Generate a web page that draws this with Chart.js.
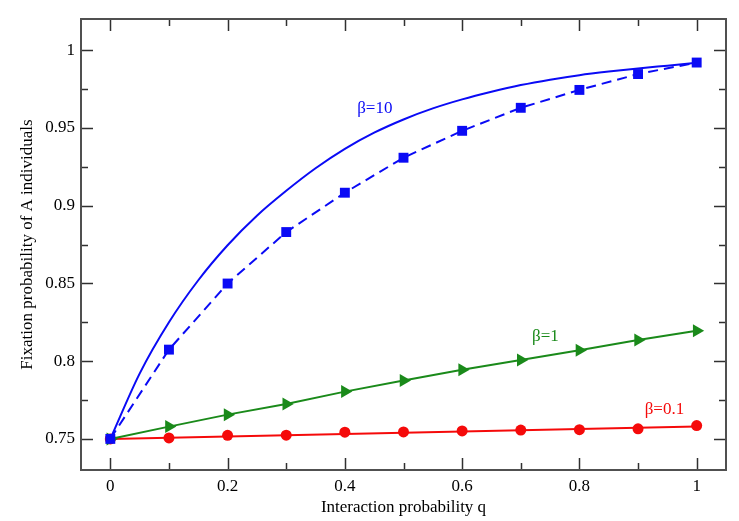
<!DOCTYPE html>
<html>
<head>
<meta charset="utf-8">
<script src="https://cdn.jsdelivr.net/npm/chart.js@4"></script>
<style>
html,body{margin:0;padding:0;background:#fff;}
#wrap{width:739px;height:521px;position:relative;}
</style>
</head>
<body>
<div id="wrap"><canvas id="c" width="739" height="521"></canvas></div>
<script>
// ---- data ----
const qValues = [0, 0.1, 0.2, 0.3, 0.4, 0.5, 0.6, 0.7, 0.8, 0.9, 1];
const beta10Sim = [0.75, 0.8074, 0.8499, 0.8830, 0.9083, 0.9308, 0.9481, 0.9629, 0.9744, 0.9846, 0.9920];
const beta1Sim = [0.75, 0.7579, 0.7656, 0.7725, 0.7804, 0.7875, 0.7945, 0.8008, 0.8070, 0.8136, 0.8196];
const beta01Sim = [0.75, 0.7506, 0.7523, 0.7524, 0.7543, 0.7545, 0.7551, 0.7557, 0.7559, 0.7565, 0.7586];
const qTheory10 = [0, 0.05, 0.1, 0.15, 0.2, 0.25, 0.3, 0.35, 0.4, 0.45, 0.5, 0.55, 0.6, 0.65, 0.7, 0.75, 0.8, 0.85, 0.9, 0.95, 1];
const beta10Theory = [0.75, 0.792, 0.825, 0.852, 0.8745, 0.8935, 0.9095, 0.924, 0.9365, 0.9469, 0.9554, 0.9625, 0.9683, 0.9732, 0.9775, 0.981, 0.9839, 0.9862, 0.9882, 0.99, 0.9918];
const qTheory01 = [0, 1];
const beta01Theory = [0.75, 0.758];

const xTickValues = [0, 0.2, 0.4, 0.6, 0.8, 1];
const xTickLabels = ['0', '0.2', '0.4', '0.6', '0.8', '1'];
const xMinorValues = [0.1, 0.3, 0.5, 0.7, 0.9];
const yTickValues = [0.75, 0.8, 0.85, 0.9, 0.95, 1];
const yTickLabels = ['0.75', '0.8', '0.85', '0.9', '0.95', '1'];
const yMinorValues = [0.775, 0.825, 0.875, 0.925, 0.975];

const seriesLabels = ['β=10', 'β=1', 'β=0.1'];
const labelAnchorsQ = [0.451, 0.742, 0.945];
const labelAnchorsY = [0.9627, 0.8156, 0.7686];

const xTitle = 'Interaction probability q';
const yTitle = 'Fixation probability of A individuals';

// ---- styling ----
const BLUE = '#0a0af5';
const GREEN = '#1a8a1a';
const RED = '#f50a0a';
const FONT = '"Liberation Serif", "Times New Roman", serif';

const pts = (xs, ys) => xs.map((x, i) => ({x: x, y: ys[i]}));

const framePlugin = {
  id: 'frame',
  afterDatasetsDraw(chart) {
    const {ctx, chartArea: a, scales: {x, y}} = chart;
    ctx.save();
    // series labels
    ctx.font = '17px ' + FONT;
    ctx.textAlign = 'center';
    ctx.textBaseline = 'middle';
    const cols = [BLUE, GREEN, RED];
    seriesLabels.forEach((t, i) => {
      ctx.fillStyle = cols[i];
      ctx.fillText(t, x.getPixelForValue(labelAnchorsQ[i]), y.getPixelForValue(labelAnchorsY[i]));
    });
    // ticks
    ctx.strokeStyle = '#303030';
    ctx.lineWidth = 1.5;
    const major = 12, minor = 7;
    ctx.beginPath();
    xTickValues.forEach(v => {
      const px = Math.round(x.getPixelForValue(v)) + 0.5;
      ctx.moveTo(px, a.bottom); ctx.lineTo(px, a.bottom - major);
      ctx.moveTo(px, a.top); ctx.lineTo(px, a.top + major);
    });
    xMinorValues.forEach(v => {
      const px = Math.round(x.getPixelForValue(v)) + 0.5;
      ctx.moveTo(px, a.bottom); ctx.lineTo(px, a.bottom - minor);
      ctx.moveTo(px, a.top); ctx.lineTo(px, a.top + minor);
    });
    yTickValues.forEach(v => {
      const py = Math.round(y.getPixelForValue(v)) + 0.5;
      ctx.moveTo(a.left, py); ctx.lineTo(a.left + major, py);
      ctx.moveTo(a.right, py); ctx.lineTo(a.right - major, py);
    });
    yMinorValues.forEach(v => {
      const py = Math.round(y.getPixelForValue(v)) + 0.5;
      ctx.moveTo(a.left, py); ctx.lineTo(a.left + minor, py);
      ctx.moveTo(a.right, py); ctx.lineTo(a.right - minor, py);
    });
    ctx.stroke();
    // frame
    ctx.strokeStyle = '#505050';
    ctx.lineWidth = 2;
    ctx.strokeRect(a.left, a.top, a.right - a.left, a.bottom - a.top);
    ctx.restore();
  }
};

new Chart(document.getElementById('c'), {
  type: 'line',
  data: {
    datasets: [
      {
        label: 'β=10 simulation',
        data: pts(qValues, beta10Sim),
        borderColor: BLUE, backgroundColor: BLUE,
        borderWidth: 2, borderDash: [10, 6],
        pointStyle: 'rect', pointRadius: 7, pointBorderWidth: 0,
        tension: 0
      },
      {
        label: 'β=10 theory',
        data: pts(qTheory10, beta10Theory),
        borderColor: BLUE, backgroundColor: BLUE,
        borderWidth: 2, pointRadius: 0,
        cubicInterpolationMode: 'monotone'
      },
      {
        label: 'β=1',
        data: pts(qValues, beta1Sim),
        borderColor: GREEN, backgroundColor: GREEN,
        borderWidth: 2,
        pointStyle: 'triangle', rotation: 90, pointRadius: 7.5, pointBorderWidth: 0,
        tension: 0
      },
      {
        label: 'β=0.1 simulation',
        data: pts(qValues, beta01Sim),
        borderColor: RED, backgroundColor: RED,
        showLine: false,
        pointStyle: 'circle', pointRadius: 5.5, pointBorderWidth: 0
      },
      {
        label: 'β=0.1 theory',
        data: pts(qTheory01, beta01Theory),
        borderColor: RED, backgroundColor: RED,
        borderWidth: 2, pointRadius: 0, tension: 0
      }
    ]
  },
  options: {
    responsive: false,
    animation: false,
    devicePixelRatio: 1,
    layout: {padding: {top: 19, right: 13, left: 0, bottom: 0}},
    plugins: {legend: {display: false}, tooltip: {enabled: false}},
    scales: {
      x: {
        type: 'linear', min: -0.05, max: 1.05,
        grid: {display: false, drawTicks: false},
        border: {display: false},
        afterBuildTicks: s => { s.ticks = xTickValues.map(v => ({value: v})); },
        afterFit: s => { s.height = 51; },
        ticks: {
          autoSkip: false, maxRotation: 0, padding: 6,
          color: '#000', font: {family: FONT, size: 17},
          callback: (v, i) => xTickLabels[i]
        },
        title: {display: true, text: xTitle, color: '#000',
          font: {family: FONT, size: 17}, padding: {top: 0, bottom: 3}}
      },
      y: {
        type: 'linear', min: 0.73, max: 1.02,
        grid: {display: false, drawTicks: false},
        border: {display: false},
        afterBuildTicks: s => { s.ticks = yTickValues.map(v => ({value: v})); },
        afterFit: s => { s.width = 81; },
        ticks: {
          autoSkip: false, padding: 6,
          color: '#000', font: {family: FONT, size: 17},
          callback: (v, i) => yTickLabels[i]
        },
        title: {display: true, text: yTitle, color: '#000',
          font: {family: FONT, size: 17}, padding: {top: 17, bottom: 0}}
      }
    }
  },
  plugins: [framePlugin]
});
</script>
</body>
</html>
